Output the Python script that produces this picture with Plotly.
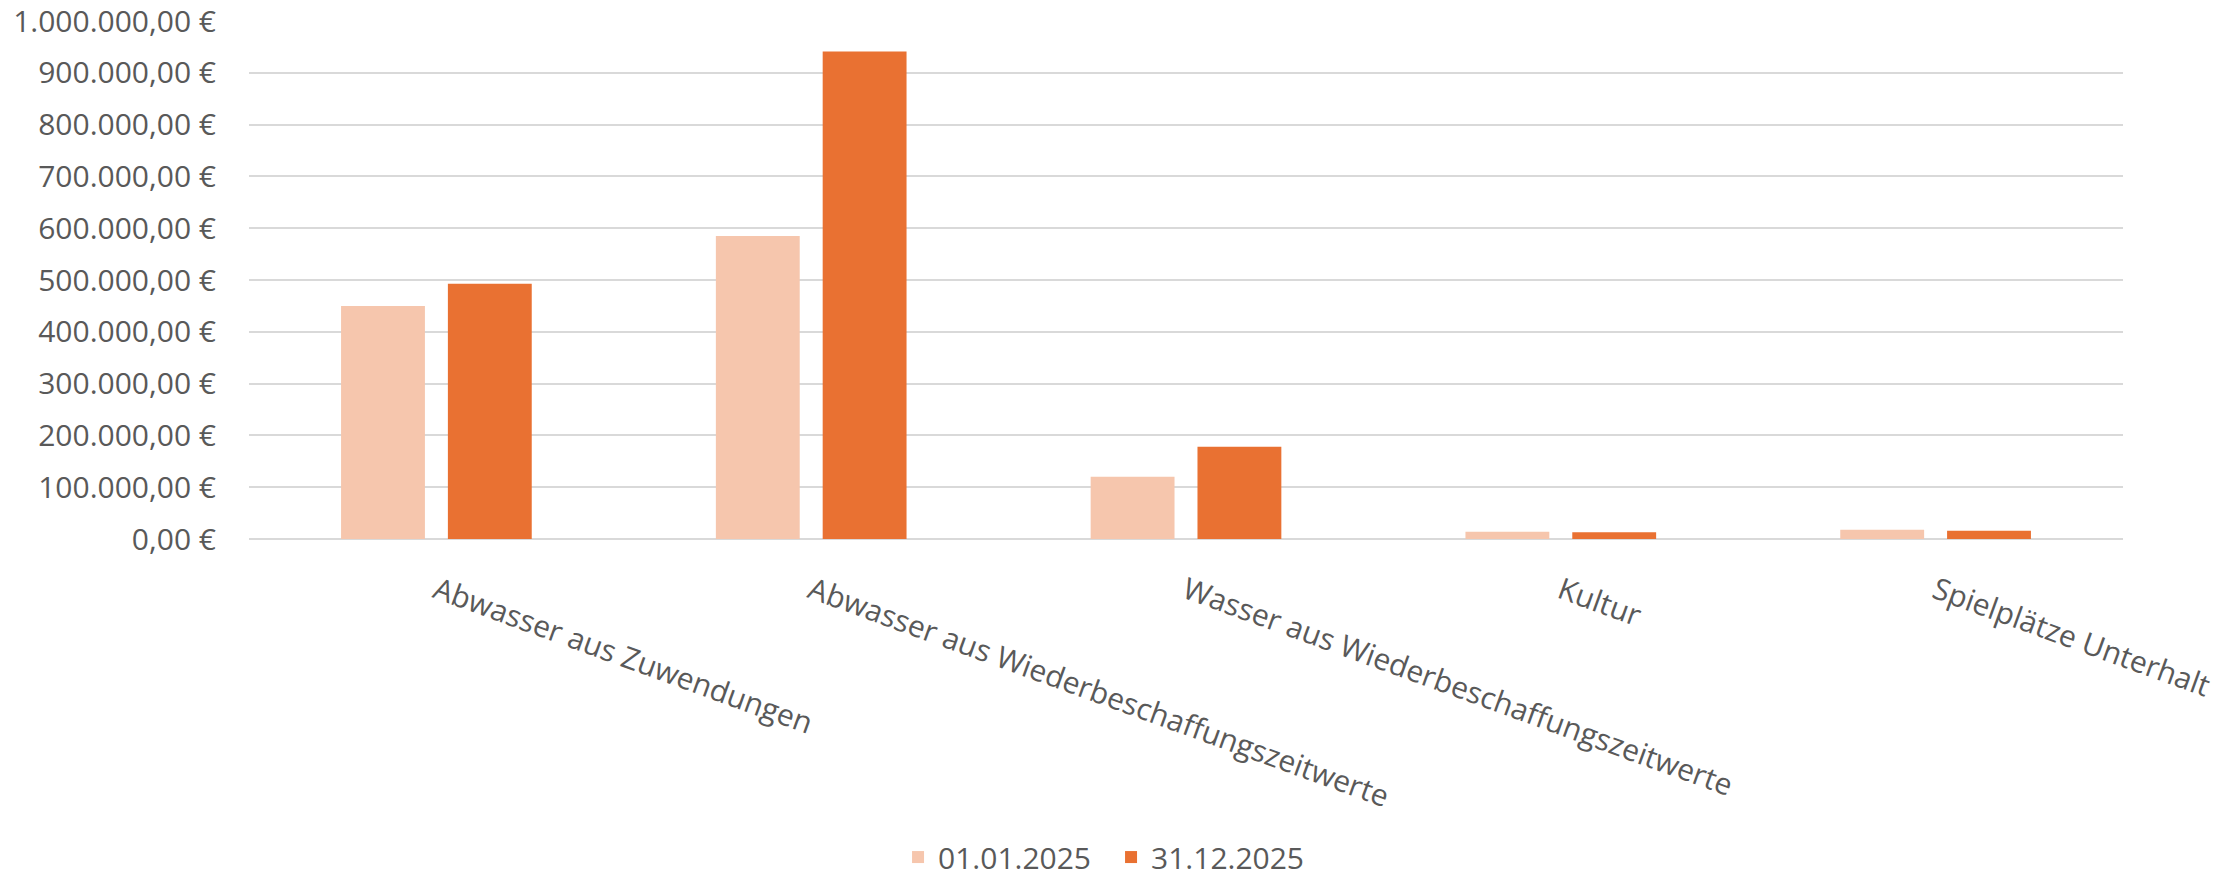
from plotly import graph_objects as go

categories = [
    "Abwasser aus Zuwendungen",
    "Abwasser aus Wiederbeschaffungszeitwerte",
    "Wasser aus Wiederbeschaffungszeitwerte",
    "Kultur",
    "Spielplätze Unterhalt",
]
start_values = [450000, 585000, 120000, 14000, 18000]
end_values = [493000, 941000, 178000, 13000, 16000]
series_labels = ["01.01.2025", "31.12.2025"]
y_ticks = [0, 100000, 200000, 300000, 400000, 500000, 600000, 700000, 800000, 900000, 1000000]
y_tick_labels = [
    "0,00 €",
    "100.000,00 €",
    "200.000,00 €",
    "300.000,00 €",
    "400.000,00 €",
    "500.000,00 €",
    "600.000,00 €",
    "700.000,00 €",
    "800.000,00 €",
    "900.000,00 €",
    "1.000.000,00 €",
]

text_color = "#595959"
grid_color = "#D9D9D9"

fig = go.Figure()

fig.add_trace(
    go.Bar(x=categories, y=start_values, name=series_labels[0], marker=dict(color="#F6C6AD", line_width=0))
)
fig.add_trace(
    go.Bar(x=categories, y=end_values, name=series_labels[1], marker=dict(color="#E97132", line_width=0))
)

fig.update_layout(
    width=2239,
    height=874,
    # page body adds 8px offset, margins account for that; no auto expansion
    margin=dict(l=241, r=124, t=13, b=343, autoexpand=False),
    paper_bgcolor="white",
    plot_bgcolor="white",
    barmode="group",
    bargap=0.43,
    bargroupgap=0.215,
    font=dict(family="Open Sans, Roboto, sans-serif", size=30, color=text_color),
    legend=dict(
        orientation="h",
        x=0.460,
        xanchor="center",
        y=-0.614,
        yanchor="middle",
        font=dict(size=30),
        itemwidth=30,
        entrywidth=168,
    ),
    showlegend=True,
)

fig.update_yaxes(
    range=[0, 1000000],
    tickvals=y_ticks,
    ticktext=y_tick_labels,
    tickfont=dict(size=30),
    ticklabeloverflow="allow",
    showgrid=True,
    gridcolor=grid_color,
    gridwidth=2,
    zeroline=True,
    zerolinecolor=grid_color,
    zerolinewidth=2,
    ticklabelstandoff=32,
    showline=False,
    automargin=False,
)

fig.update_xaxes(
    tickangle=20,
    tickfont=dict(size=30),
    ticklabeloverflow="allow",
    showgrid=False,
    showline=False,
    ticklabelstandoff=28,
    automargin=False,
)

fig.write_html("out.html")
